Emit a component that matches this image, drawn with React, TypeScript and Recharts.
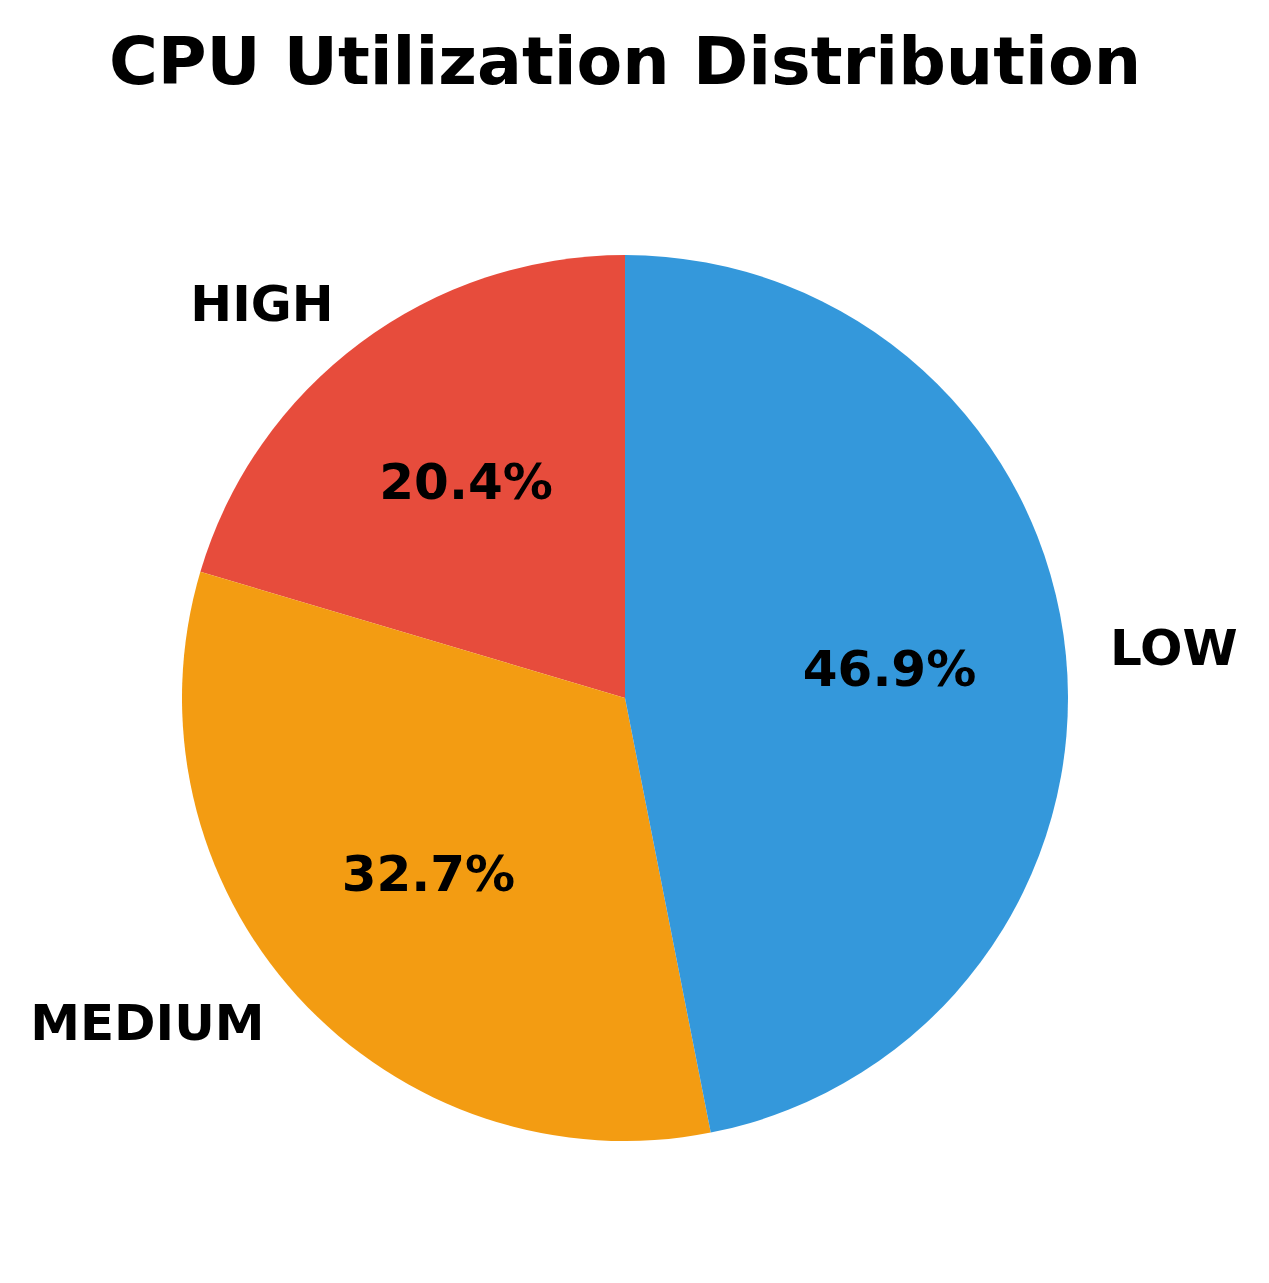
import { PieChart, Pie, Cell } from "recharts";

const categories = ["HIGH", "MEDIUM", "LOW"];
const shares = [20.4, 32.7, 46.9];
const colors = ["#e74c3c", "#f39c12", "#3498db"];

const data = categories.map((name, i) => ({ name, value: shares[i] }));

const RAD = Math.PI / 180;
const FONT = "'DejaVu Sans', sans-serif";

function renderLabel(props: any) {
  const { cx, cy, midAngle, outerRadius, percent, name } = props;
  const cos = Math.cos(-midAngle * RAD);
  const sin = Math.sin(-midAngle * RAD);
  const ox = cx + outerRadius * 1.1 * cos;
  const oy = cy + outerRadius * 1.1 * sin;
  const ix = cx + outerRadius * 0.6 * cos;
  const iy = cy + outerRadius * 0.6 * sin;
  return (
    <g>
      <text
        x={ox}
        y={oy}
        dy={14}
        textAnchor={ox < cx ? "end" : "start"}
        fill="#000"
        fontSize={50}
        fontWeight="bold"
        fontFamily={FONT}
      >
        {name}
      </text>
      <text
        x={ix}
        y={iy}
        dy={14}
        textAnchor="middle"
        fill="#000"
        fontSize={50}
        fontWeight="bold"
        fontFamily={FONT}
      >
        {(percent * 100).toFixed(1)}%
      </text>
    </g>
  );
}

export default function App() {
  return (
    <div style={{ position: "absolute", left: 0, top: 0, width: 1269, height: 1283, background: "#fff" }}>
      <svg width={1269} height={120} style={{ position: "absolute", left: 0, top: 0 }}>
        <text x={625} y={84} textAnchor="middle" fontSize={66.6} fontWeight="bold" fontFamily={FONT} fill="#000">
          CPU Utilization Distribution
        </text>
      </svg>
      <PieChart width={1269} height={1283}>
        <Pie
          data={data}
          dataKey="value"
          nameKey="name"
          cx={620}
          cy={693}
          outerRadius={443}
          startAngle={90}
          endAngle={450}
          stroke="none"
          label={renderLabel}
          labelLine={false}
          isAnimationActive={false}
        >
          {data.map((d, i) => (
            <Cell key={d.name} fill={colors[i]} />
          ))}
        </Pie>
      </PieChart>
    </div>
  );
}
